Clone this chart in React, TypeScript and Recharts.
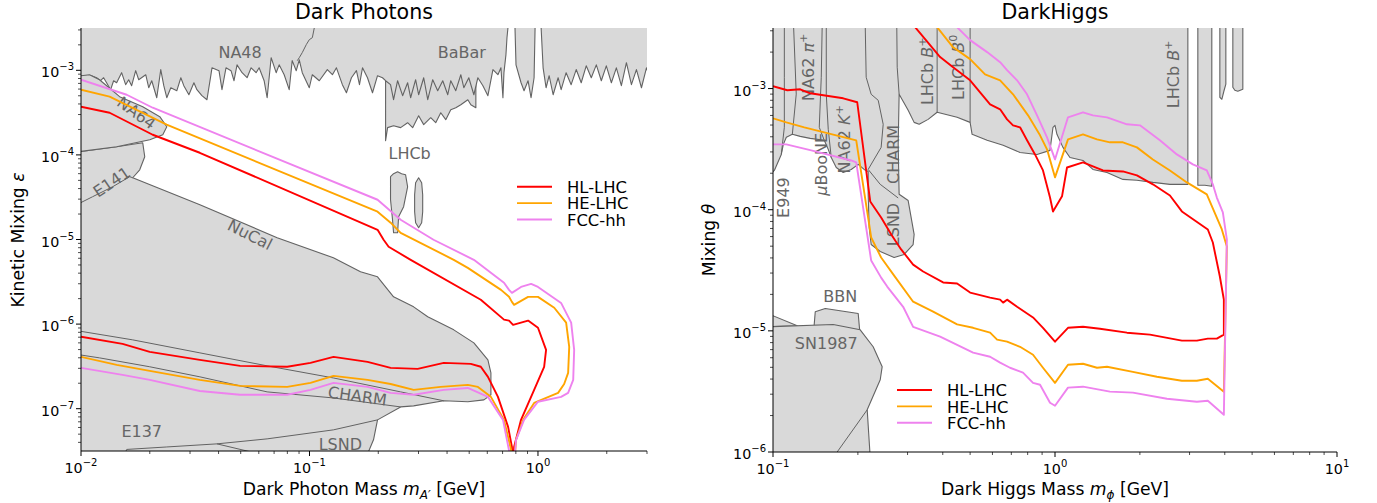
import React from "react"
import { ComposedChart, Scatter, XAxis, YAxis } from "recharts"

type Pt = [number, number]
type Label = [number, number, string]

const FONT = '"DejaVu Sans", Verdana, sans-serif'
const FILL = "#d9d9d9"
const EDGE = "#636363"
const TEXT_GRAY = "#666666"
const HL = "#ff0000"
const HE = "#ffa500"
const FCC = "#ee82ee"

// ---------- Dark photons (left) ----------
const DP_X_DOMAIN: Pt = [0.01, 3]
const DP_Y_DOMAIN: Pt = [3.1623e-8, 3.1623e-3]
const DP_X_DECADES = [-2, -1, 0]
const DP_Y_DECADES = [-8, -7, -6, -5, -4, -3]

const DP_BABAR_A: Pt[] = [
  [0.0095, 1e-2], [0.0095, 7.74e-4], [0.01, 7.74e-4], [0.01057, 8.63e-4], [0.01112, 8.63e-4], [0.0117, 8.17e-4],
  [0.01218, 7.53e-4], [0.01256, 8.17e-4], [0.01294, 7.13e-4], [0.01348, 5.9e-4], [0.01389, 7.53e-4], [0.01432, 7.13e-4],
  [0.01506, 9.37e-4], [0.01568, 6.76e-4], [0.01617, 7.74e-4], [0.01666, 6.58e-4], [0.01735, 9.9e-4], [0.01789, 7.74e-4],
  [0.0192, 8.87e-4], [0.01979, 6.22e-4], [0.0204, 7.53e-4], [0.02146, 4.74e-4], [0.02234, 1.02e-3], [0.02303, 6.58e-4],
  [0.02374, 4.74e-4], [0.02472, 6.22e-4], [0.02627, 5.74e-4], [0.02735, 8.17e-4], [0.02818, 6.58e-4], [0.02966, 5.14e-4],
  [0.0312, 7.13e-4], [0.03216, 5.9e-4], [0.03382, 5.01e-4], [0.03558, 4.49e-4], [0.03705, 8.87e-4], [0.03743, 1.07e-3],
  [0.04017, 9.9e-4], [0.0414, 5.9e-4], [0.04311, 1.07e-3], [0.04535, 9.9e-4], [0.04674, 7.53e-4], [0.04818, 1.16e-3],
  [0.0507, 9.37e-4], [0.05332, 8.17e-4], [0.05552, 1.07e-3], [0.0584, 9.37e-4], [0.0602, 1.07e-3], [0.06331, 7.53e-4],
  [0.06526, 4.74e-4], [0.06795, 1.41e-3], [0.07146, 9.37e-4], [0.07366, 1.16e-3], [0.07749, 8.87e-4], [0.08151, 5.9e-4],
  [0.08401, 1.3e-3], [0.0875, 9.9e-4], [0.09021, 1.33e-3], [0.09298, 9.37e-4], [0.0998, 6.22e-4], [0.1029, 8.87e-4],
  [0.1104, 7.53e-4], [0.1197, 1.02e-3], [0.126, 8.87e-4], [0.1312, 1.07e-3], [0.1393, 6.76e-4], [0.1451, 5.43e-4],
  [0.1526, 8.17e-4], [0.1605, 9.9e-4], [0.1655, 6.76e-4], [0.1706, 1.07e-3], [0.1794, 8.17e-4], [0.1887, 5.43e-4],
  [0.1985, 8.63e-4], [0.2087, 8.17e-4], [0.2153, 7.53e-4], [0.2263, 6.76e-4], [0.2333, 4.49e-4], [0.243, 7.53e-4],
  [0.2556, 5.01e-4], [0.2688, 7.13e-4], [0.2771, 4.74e-4], [0.2914, 7.74e-4], [0.3004, 5.14e-4], [0.3161, 8.17e-4],
  [0.3292, 4.49e-4], [0.3462, 7.74e-4], [0.364, 5.74e-4], [0.383, 7.53e-4], [0.4028, 5.14e-4], [0.4152, 7.53e-4],
  [0.4368, 5.74e-4], [0.4595, 8.87e-4], [0.4736, 6.22e-4], [0.498, 8.17e-4], [0.5241, 5.14e-4], [0.5457, 8.17e-4],
  [0.5741, 6.58e-4], [0.6037, 5.01e-4], [0.6351, 1.02e-3], [0.6678, 8.87e-4], [0.6884, 1.07e-3], [0.7024, 4.74e-4],
  [0.7096, 9.37e-4], [0.7241, 1.53e-3], [0.7316, 2.43e-3], [0.7389, 3.19e-3], [0.7389, 1e-2],
]
const DP_BABAR_B: Pt[] = [
  [0.7932, 1e-2], [0.7932, 3.19e-3], [0.8013, 1.16e-3], [0.8432, 7.13e-4], [0.869, 5.74e-4], [0.9047, 7.53e-4],
  [0.9325, 4.74e-4], [0.9614, 8.17e-4], [0.9712, 3.19e-3], [0.9712, 1e-2],
]
const DP_BABAR_C: Pt[] = [
  [1.032, 1e-2], [1.032, 3.19e-3], [1.053, 1.07e-3], [1.085, 6.22e-4], [1.119, 8.63e-4], [1.165, 5.14e-4],
  [1.225, 8.17e-4], [1.263, 5.9e-4], [1.328, 9.37e-4], [1.397, 6.76e-4], [1.47, 1.02e-3], [1.546, 7.13e-4],
  [1.626, 1.13e-3], [1.711, 8.17e-4], [1.8, 1.16e-3], [1.893, 7.53e-4], [1.991, 1.13e-3], [2.095, 7.13e-4],
  [2.203, 1.07e-3], [2.317, 6.58e-4], [2.438, 1.23e-3], [2.564, 6.76e-4], [2.697, 1.02e-3], [2.837, 6.22e-4],
  [2.984, 1.07e-3], [3.2, 6.22e-4], [3.2, 1e-2],
]
const DP_LHCB_LOW: Pt[] = [
  [0.2153, 1.02e-3], [0.2153, 1.47e-4], [0.2197, 2.1e-4], [0.2333, 2.21e-4], [0.2505, 2.1e-4], [0.2688, 2.4e-4],
  [0.2828, 2.1e-4], [0.3004, 2.9e-4], [0.3161, 2.28e-4], [0.3393, 2.75e-4], [0.3568, 2.4e-4], [0.3754, 3.15e-4],
  [0.3948, 2.61e-4], [0.4152, 3.42e-4], [0.4368, 3.61e-4], [0.4595, 3.92e-4], [0.4932, 4.49e-4], [0.5084, 3.92e-4],
  [0.5347, 3.61e-4], [0.5347, 1.02e-3],
]
const DP_NA48_EDGE: Pt[] = [
  [0.106, 5e-3], [0.105, 3.19e-3], [0.1029, 2.43e-3], [0.0998, 2.3e-3], [0.09681, 2.01e-3], [0.09298, 1.62e-3],
  [0.09021, 1.41e-3], [0.08841, 1.3e-3],
]
const DP_LHCB_ISLAND_1: Pt[] = [
  [0.2263, 5.52e-5], [0.2333, 5.99e-5], [0.243, 6.32e-5], [0.253, 5.99e-5], [0.2634, 5.82e-5], [0.2688, 4.2e-5],
  [0.2582, 2.44e-5], [0.2455, 1.86e-5], [0.243, 1.2e-5], [0.2333, 1.2e-5], [0.2309, 1.71e-5], [0.2263, 2.95e-5],
]
const DP_LHCB_ISLAND_2: Pt[] = [
  [0.3004, 5.37e-5], [0.3097, 4.69e-5], [0.3129, 3.38e-5], [0.3129, 2.13e-5], [0.3097, 1.58e-5], [0.3004, 1.38e-5],
  [0.2914, 1.58e-5], [0.2885, 2.13e-5], [0.2885, 3.38e-5], [0.2914, 4.69e-5],
]
const DP_NA64: Pt[] = [
  [0.0095, 8.5e-4], [0.0109, 8.87e-4], [0.01205, 7.74e-4], [0.01476, 4.88e-4], [0.01863, 3.71e-4], [0.02212, 2.83e-4],
  [0.02374, 2.15e-4], [0.0228, 1.73e-4], [0.02, 1.51e-4], [0.01432, 1.25e-4], [0.0095, 1.08e-4],
]
const DP_NUCAL: Pt[] = [
  [0.0095, 1.08e-4], [0.01432, 1.25e-4], [0.01863, 1.39e-4], [0.01901, 9.5e-5], [0.01807, 6.67e-5], [0.01684, 5.37e-5],
  [0.03314, 2.57e-5], [0.07219, 1.05e-5], [0.1272, 6.08e-6], [0.1672, 4.15e-6], [0.1985, 3.62e-6], [0.2333, 2.1e-6],
  [0.2856, 1.6e-6], [0.3292, 1.22e-6], [0.4281, 8.55e-7], [0.5241, 6.0e-7], [0.6037, 3.78e-7], [0.6223, 2.65e-7],
  [0.6223, 1.46e-7], [0.5799, 1.27e-7], [0.4932, 1.21e-7], [0.3869, 1.24e-7], [0.2856, 1.08e-7], [0.2505, 1.05e-7],
  [0.1985, 7.38e-8], [0.1906, 4.29e-8], [0.1812, 3.1e-8], [0.18, 1e-8], [0.0095, 1e-8],
]
const DP_E141_EDGE: Pt[] = [[0.0095, 2.55e-5], [0.01123, 3.2e-5], [0.01375, 4.2e-5], [0.01633, 5.52e-5], [0.01684, 5.37e-5]]
const DP_CHARM_EDGE_A: Pt[] = [
  [0.0095, 8.4e-7], [0.01684, 6.51e-7], [0.03314, 4.57e-7], [0.06526, 3.21e-7], [0.1272, 2.31e-7], [0.2505, 1.58e-7], [0.3869, 1.24e-7],
]
const DP_CHARM_EDGE_B: Pt[] = [
  [0.0095, 4.4e-7], [0.01205, 3.99e-7], [0.02, 3.13e-7], [0.03314, 2.38e-7], [0.06526, 1.58e-7], [0.1272, 1.34e-7], [0.2505, 1.05e-7],
]
const DP_E137_EDGE: Pt[] = [
  [0.0152, 2.5e-8], [0.01585, 3.3e-8], [0.02374, 3.53e-8], [0.03936, 3.84e-8], [0.06526, 4.4e-8], [0.1272, 5.62e-8], [0.1985, 7.38e-8],
]
const DP_LSND_EDGE: Pt[] = [[0.03936, 3.84e-8], [0.05495, 3.1e-8], [0.06, 2.5e-8]]

const DP_HL_LHC: Pt[] = [
  [0.01, 7.08e-7], [0.0152, 5.84e-7], [0.02, 4.69e-7], [0.0331, 3.78e-7], [0.0497, 3.21e-7], [0.0799, 3.13e-7],
  [0.101, 3.48e-7], [0.1274, 4.1e-7], [0.1795, 3.58e-7], [0.2265, 3.04e-7], [0.2975, 2.96e-7], [0.387, 3.48e-7],
  [0.508, 3.39e-7], [0.562, 3.13e-7], [0.604, 2.38e-7], [0.668, 1.38e-7], [0.74, 6.1e-8], [0.769, 3.53e-8],
  [0.778, 1.5e-8], [0.786, 3.53e-8], [0.843, 7.38e-8], [0.962, 1.67e-7], [1.064, 3.13e-7], [1.085, 4.96e-7],
  [1.0, 9.05e-7], [0.905, 1.1e-6], [0.778, 9.8e-7], [0.747, 1.1e-6], [0.71, 1.13e-6], [0.562, 1.94e-6],
  [0.2773, 5.75e-6], [0.222, 8.2e-6], [0.211, 9.93e-6], [0.1986, 1.3e-5], [0.0331, 1.06e-4], [0.0206, 1.73e-4],
  [0.01334, 3.15e-4], [0.01, 3.71e-4],
]
const DP_HE_LHC: Pt[] = [
  [0.01, 4.1e-7], [0.01433, 3.3e-7], [0.02, 2.8e-7], [0.0331, 2.19e-7], [0.0497, 1.86e-7], [0.0799, 1.81e-7],
  [0.101, 2.02e-7], [0.1274, 2.44e-7], [0.1795, 2.19e-7], [0.2265, 1.96e-7], [0.2858, 1.67e-7], [0.375, 1.81e-7],
  [0.493, 1.91e-7], [0.546, 1.81e-7], [0.622, 1.38e-7], [0.71, 7.38e-8], [0.762, 3.3e-8], [0.778, 1.5e-8],
  [0.802, 4.29e-8], [0.861, 7.38e-8], [0.962, 1.17e-7], [1.225, 1.54e-7], [1.302, 1.96e-7], [1.355, 2.65e-7],
  [1.37, 5.38e-7], [1.328, 1.04e-6], [1.178, 1.56e-6], [1.0, 2.1e-6], [0.905, 2.1e-6], [0.786, 1.69e-6],
  [0.769, 1.83e-6], [0.747, 2.1e-6], [0.689, 2.54e-6], [0.493, 4.62e-6], [0.428, 5.75e-6], [0.2506, 1.2e-5],
  [0.2265, 1.58e-5], [0.1986, 2.13e-5], [0.0237, 2.28e-4], [0.01334, 4.88e-4], [0.01, 5.9e-4],
]
const DP_FCC_HH: Pt[] = [
  [0.01, 3.04e-7], [0.0152, 2.51e-7], [0.02, 2.19e-7], [0.0331, 1.62e-7], [0.0497, 1.46e-7], [0.0799, 1.46e-7],
  [0.101, 1.67e-7], [0.1274, 2.02e-7], [0.1795, 1.81e-7], [0.2265, 1.54e-7], [0.2858, 1.46e-7], [0.387, 1.67e-7],
  [0.493, 1.76e-7], [0.604, 1.38e-7], [0.703, 7.38e-8], [0.747, 3.2e-8], [0.775, 1.5e-8], [0.802, 4.29e-8],
  [0.869, 7.38e-8], [1.0, 1.21e-7], [1.262, 1.38e-7], [1.355, 1.54e-7], [1.426, 2.19e-7], [1.44, 4.96e-7],
  [1.397, 1.04e-6], [1.262, 1.78e-6], [1.0, 2.75e-6], [0.933, 2.99e-6], [0.843, 2.75e-6], [0.769, 2.34e-6],
  [0.747, 2.54e-6], [0.71, 3.08e-6], [0.524, 5.75e-6], [0.349, 9.93e-6], [0.2506, 1.71e-5], [0.1986, 2.95e-5],
  [0.0206, 3.61e-4], [0.01585, 5.14e-4], [0.01, 7.74e-4],
]
const DP_LABELS: Label[] = [
  [0.04967, 1.62e-3, "NA48"],
  [0.4642, 1.62e-3, "BaBar"],
  [0.2743, 1.06e-4, "LHCb"],
  [0.01753, 3.15e-4, "NA64"],
  [0.01361, 4.81e-5, "E141"],
  [0.05495, 1.14e-5, "NuCal"],
  [0.1621, 1.42e-7, "CHARM"],
  [0.01844, 5.47e-8, "E137"],
  [0.1365, 3.84e-8, "LSND"],
]
const DP_LABEL_ANGLE: Record<string, number> = { NA64: 36, E141: -34, NuCal: 27, CHARM: 8 }

// ---------- Dark Higgs (right) ----------
const DH_X_DOMAIN: Pt = [0.1, 10]
const DH_Y_DOMAIN: Pt = [1e-6, 3.1623e-3]
const DH_X_DECADES = [-1, 0, 1]
const DH_Y_DECADES = [-6, -5, -4, -3]

const DH_BAND: Pt[] = [
  [0.095, 1e-2], [2.959, 1e-2], [2.959, 1.62e-4], [2.556, 1.62e-4], [2.224, 1.68e-4], [1.952, 1.75e-4],
  [1.741, 1.78e-4], [1.529, 2.03e-4], [1.363, 2.15e-4], [1.257, 2.55e-4], [1.13, 2.7e-4], [1.067, 3.27e-4],
  [1.016, 4.19e-4], [1.0, 4.97e-4], [0.9838, 4.79e-4], [0.9601, 3.09e-4], [0.8635, 2.86e-4], [0.7517, 2.97e-4],
  [0.6546, 3.4e-4], [0.5744, 3.74e-4], [0.5082, 4.19e-4], [0.5, 5.26e-4], [0.4496, 5.79e-4], [0.382, 6.37e-4],
  [0.3549, 5.57e-4], [0.3298, 5.07e-4], [0.3166, 5.26e-4], [0.3015, 6.62e-4], [0.2801, 8.97e-4], [0.2779, 3.46e-4],
  [0.2801, 1.34e-4], [0.3015, 1.19e-4], [0.3166, 6.25e-5], [0.314, 5.16e-5], [0.2918, 4.27e-5], [0.2689, 4.03e-5],
  [0.24, 4.52e-5], [0.2229, 5.16e-5], [0.2193, 7.13e-5], [0.2175, 1.34e-4], [0.2175, 2.07e-4], [0.2105, 2.15e-4],
  [0.2005, 2.37e-4], [0.1894, 2.15e-4], [0.1774, 2.03e-4], [0.1676, 2.23e-4], [0.1609, 2.7e-4], [0.157, 3.15e-4],
  [0.152, 3.74e-4], [0.1355, 3.88e-4], [0.1249, 4.03e-4], [0.1171, 4.19e-4], [0.1115, 3.96e-4], [0.1088, 3.46e-4],
  [0.107, 2.86e-4], [0.1011, 2.11e-4], [0.095, 1.85e-4],
]
const DH_E949_EDGE: Pt[] = [[0.1097, 1e-2], [0.1097, 1.24e-3], [0.1097, 4.79e-4], [0.107, 2.86e-4]]
const DH_NA62PI_LEFT: Pt[] = [[0.1161, 1e-2], [0.1209, 9.0e-4], [0.1171, 4.19e-4]]
const DH_NA62PI_RIGHT: Pt[] = [[0.1507, 1e-2], [0.1483, 1.24e-3], [0.1459, 4.79e-4], [0.152, 3.74e-4]]
const DH_NA62K_LEFT: Pt[] = [[0.1545, 1e-2], [0.1545, 8.97e-4], [0.157, 4.61e-4], [0.1609, 2.7e-4]]
const DH_CHARM_LEFT: Pt[] = [
  [0.2105, 1e-2], [0.214, 1.24e-3], [0.2229, 8.97e-4], [0.2361, 8.0e-4], [0.2459, 5.07e-4], [0.2418, 3.27e-4], [0.2175, 2.15e-4],
]
const DH_CHARM_RIGHT: Pt[] = [[0.2734, 1e-2], [0.2757, 1.5e-3], [0.2801, 8.97e-4]]
const DH_LSND_TOP: Pt[] = [[0.2175, 2.15e-4], [0.24, 1.62e-4], [0.2779, 1.25e-4]]
const DH_B0_LEFT: Pt[] = [[0.382, 1e-2], [0.382, 6.37e-4]]
const DH_B0_RIGHT: Pt[] = [[0.5, 1e-2], [0.5, 5.26e-4]]
const DH_STRIP_1: Pt[] = [[3.21, 1e-2], [3.598, 1e-2], [3.598, 1.56e-4], [3.399, 1.59e-4], [3.21, 1.59e-4]]
const DH_STRIP_2: Pt[] = [[3.842, 1e-2], [4.035, 1e-2], [4.035, 1.09e-3], [3.97, 9.5e-4], [3.905, 8.16e-4], [3.842, 8.48e-4]]
const DH_STRIP_3: Pt[] = [[4.272, 1e-2], [4.635, 1e-2], [4.635, 9.86e-4], [4.449, 9.5e-4], [4.342, 9.68e-4], [4.272, 1.025e-3]]
const DH_BBN: Pt[] = [[0.1389, 9.0e-6], [0.1412, 1.44e-5], [0.1532, 1.53e-5], [0.2005, 1.39e-5], [0.2038, 9.0e-6]]
const DH_SN_SLIVER: Pt[] = [[0.095, 1.4e-5], [0.1219, 1.1e-5], [0.095, 1.08e-5]]
const DH_SN1987: Pt[] = [
  [0.095, 1.08e-5], [0.1635, 1.13e-5], [0.2038, 1.02e-5], [0.2266, 7.39e-6], [0.2439, 5.06e-6], [0.24, 3.95e-6],
  [0.2158, 2.23e-6], [0.2212, 9e-7], [0.095, 9e-7],
]
const DH_SN_EDGE: Pt[] = [[0.2158, 2.23e-6], [0.1635, 9e-7]]

const DH_HL_LHC: Pt[] = [
  [0.1, 1.045e-3], [0.1124, 9.68e-4], [0.1249, 9.86e-4], [0.1355, 9.14e-4], [0.1774, 8.31e-4], [0.1989, 7.71e-4],
  [0.2212, 1.17e-4], [0.2418, 8.63e-5], [0.2626, 6.25e-5], [0.2847, 4.7e-5], [0.314, 3.52e-5], [0.3407, 3.09e-5],
  [0.4011, 2.51e-5], [0.4496, 2.46e-5], [0.5, 2.07e-5], [0.5886, 1.88e-5], [0.6388, 1.81e-5], [0.6546, 1.71e-5],
  [0.6761, 1.81e-5], [0.7336, 1.58e-5], [0.8358, 1.29e-5], [0.9066, 1.06e-5], [1.0, 8.14e-6], [1.112, 1.06e-5],
  [1.257, 1.08e-5], [1.443, 1.04e-5], [1.799, 9.66e-6], [2.171, 9.31e-6], [2.818, 8.3e-6], [3.184, 8.3e-6],
  [3.483, 8.63e-6], [3.749, 8.63e-6], [3.97, 9.31e-6], [3.97, 1.81e-5], [3.842, 2.81e-5], [3.628, 5.36e-5],
  [3.483, 6.87e-5], [2.818, 9.68e-5], [2.556, 1.31e-4], [2.224, 1.62e-4], [1.952, 1.92e-4], [1.741, 2.07e-4],
  [1.479, 2.11e-4], [1.257, 2.46e-4], [1.103, 2.23e-4], [1.059, 1.29e-4], [0.9838, 9.68e-5], [0.9601, 1.26e-4],
  [0.9066, 2.11e-4], [0.8495, 2.86e-4], [0.7959, 3.74e-4], [0.7517, 4.79e-4], [0.71, 4.97e-4], [0.6761, 5.57e-4],
  [0.6388, 6.74e-4], [0.5886, 7.41e-4], [0.5, 1.17e-3], [0.4352, 1.5e-3], [0.3914, 1.82e-3], [0.3192, 3.21e-3],
  [0.2942, 4.53e-3],
]
const DH_HE_LHC: Pt[] = [
  [0.1, 5.68e-4], [0.1115, 5.26e-4], [0.1291, 4.79e-4], [0.1973, 3.74e-4], [0.2229, 5.9e-5], [0.2418, 4.03e-5],
  [0.2689, 2.86e-5], [0.314, 1.74e-5], [0.3697, 1.44e-5], [0.4496, 1.13e-5], [0.5123, 1.06e-5], [0.5886, 9.66e-6],
  [0.6233, 8.47e-6], [0.6761, 8.14e-6], [0.7517, 7.39e-6], [0.8358, 6.35e-6], [0.9066, 4.96e-6], [1.0, 3.72e-6],
  [1.112, 5.25e-6], [1.257, 5.35e-6], [1.409, 4.96e-6], [1.529, 5.05e-6], [1.889, 4.59e-6], [2.298, 4.18e-6],
  [2.818, 3.87e-6], [3.184, 3.87e-6], [3.483, 4.02e-6], [3.97, 3.14e-6], [4.068, 4.97e-5], [3.905, 6.87e-5],
  [3.454, 1.34e-4], [2.935, 1.68e-4], [2.556, 2.11e-4], [2.224, 2.6e-4], [1.952, 3.27e-4], [1.741, 3.6e-4],
  [1.566, 3.6e-4], [1.409, 3.81e-4], [1.257, 4.19e-4], [1.112, 3.81e-4], [1.0, 1.85e-4], [0.937, 3.15e-4],
  [0.885, 4.11e-4], [0.8025, 6.01e-4], [0.71, 8.97e-4], [0.6388, 1.17e-3], [0.5649, 1.31e-3], [0.5, 1.75e-3],
  [0.4352, 2.19e-3], [0.382, 3.21e-3], [0.3608, 4.11e-3],
]
const DH_FCC_HH: Pt[] = [
  [0.1, 3.46e-4], [0.1115, 3.46e-4], [0.1367, 3.09e-4], [0.1894, 2.55e-4], [0.1973, 2.46e-4], [0.2229, 3.81e-5],
  [0.2418, 2.75e-5], [0.2541, 2.32e-5], [0.2894, 1.58e-5], [0.314, 1.08e-5], [0.3914, 8.96e-6], [0.5123, 6.61e-6],
  [0.5886, 6.11e-6], [0.6388, 5.46e-6], [0.6925, 4.96e-6], [0.77, 4.52e-6], [0.8358, 3.72e-6], [0.885, 3.59e-6],
  [0.9601, 2.55e-6], [1.0, 2.41e-6], [1.112, 3.4e-6], [1.257, 3.46e-6], [1.566, 3.15e-6], [1.889, 3.09e-6],
  [2.494, 2.75e-6], [3.184, 2.6e-6], [3.483, 2.65e-6], [3.97, 2.03e-6], [4.068, 5.68e-5], [3.937, 9.49e-5],
  [3.749, 1.26e-4], [3.628, 1.62e-4], [3.454, 2.11e-4], [3.082, 2.37e-4], [2.705, 2.86e-4], [2.355, 3.74e-4],
  [2.001, 4.97e-4], [1.799, 5.07e-4], [1.529, 5.79e-4], [1.363, 6.01e-4], [1.257, 6.37e-4], [1.112, 5.79e-4],
  [1.0, 2.6e-4], [0.937, 3.96e-4], [0.8635, 6.01e-4], [0.7959, 8.97e-4], [0.7336, 1.17e-3], [0.6761, 1.42e-3],
  [0.6388, 1.65e-3], [0.5744, 2.0e-3], [0.5, 2.51e-3], [0.4496, 3.21e-3], [0.4246, 4.11e-3],
]
const DH_LABELS: Label[] = [
  [0.1088, 1.26e-4, "E949"],
  [0.1334, 1.5e-3, "NA62 *π*^+"],
  [0.1483, 2.37e-4, "*μ*BooNE"],
  [0.1789, 3.81e-4, "NA62 *K*^+"],
  [0.2667, 2.86e-4, "CHARM"],
  [0.2667, 7.55e-5, "LSND"],
  [0.3521, 1.39e-3, "LHCb *B*^+"],
  [0.4532, 1.5e-3, "LHCb *B*^0"],
  [2.618, 1.31e-3, "LHCb *B*^+ "],
  [0.1731, 1.92e-5, "BBN"],
  [0.1545, 7.84e-6, "SN1987"],
]
const DH_HORIZONTAL = ["BBN", "SN1987"]

// ---------- helpers ----------
const toXY = (pts: Pt[]) => pts.map(([x, y]) => ({ x, y }))
const noDot = () => <g />

function logTicks(decades: number[], [lo, hi]: Pt) {
  const out: number[] = []
  decades.forEach((d) =>
    [1, 2, 3, 4, 5, 6, 7, 8, 9].forEach((m) => {
      const v = m * Math.pow(10, d)
      if (v >= lo * 0.999 && v <= hi * 1.001) out.push(v)
    })
  )
  return out
}

function pathOf(points: { x: number; y: number }[], closed: boolean) {
  const d = points.map((p, i) => `${i ? "L" : "M"}${p.x.toFixed(2)},${p.y.toFixed(2)}`).join(" ")
  return closed ? d + " Z" : d
}

function region(key: string, pts: Pt[]) {
  return (
    <Scatter
      key={key}
      data={toXY(pts)}
      shape={noDot}
      isAnimationActive={false}
      line={(p: any) => <path d={pathOf(p.points, true)} fill={FILL} stroke={EDGE} strokeWidth={1.1} strokeLinejoin="round" />}
    />
  )
}

function edge(key: string, pts: Pt[]) {
  return (
    <Scatter
      key={key}
      data={toXY(pts)}
      shape={noDot}
      isAnimationActive={false}
      line={(p: any) => <path d={pathOf(p.points, false)} fill="none" stroke={EDGE} strokeWidth={1} strokeLinejoin="round" />}
    />
  )
}

function curve(key: string, pts: Pt[], color: string) {
  return (
    <Scatter
      key={key}
      data={toXY(pts)}
      shape={noDot}
      isAnimationActive={false}
      line={(p: any) => <path d={pathOf(p.points, false)} fill="none" stroke={color} strokeWidth={1.9} strokeLinejoin="round" />}
    />
  )
}

// "*x*" -> italic, "^c" -> superscript
function rich(s: string, size: number) {
  return s
    .split(/(\*[^*]+\*|\^.)/)
    .filter(Boolean)
    .map((t, i) => {
      if (t.startsWith("*")) return <tspan key={i} fontStyle="italic">{t.slice(1, -1)}</tspan>
      if (t.startsWith("^"))
        return (
          <tspan key={i} fontSize={size * 0.7} dy={-size * 0.42}>
            {t.slice(1)}
          </tspan>
        )
      return <tspan key={i}>{t}</tspan>
    })
}

function labels(key: string, items: Label[], angleOf: (t: string) => number) {
  const size = 16
  return (
    <Scatter
      key={key}
      data={items.map(([x, y, text]) => ({ x, y, text }))}
      isAnimationActive={false}
      shape={(p: any) => {
        const a = angleOf(p.payload.text)
        return (
          <text
            x={p.cx}
            y={p.cy}
            dy={size * 0.36}
            textAnchor="middle"
            fontSize={size}
            fontFamily={FONT}
            fill={TEXT_GRAY}
            transform={a ? `rotate(${a},${p.cx},${p.cy})` : undefined}
          >
            {rich(p.payload.text.trim(), size)}
          </text>
        )
      }}
    />
  )
}

const expText = (e: number) => (e < 0 ? "\u2212" + -e : String(e))

function tickInfo(v: number) {
  const lg = Math.log10(v)
  const e = Math.round(lg)
  return { e, major: Math.abs(lg - e) < 1e-6 }
}

function XTick({ x, y, payload }: any) {
  const { e, major } = tickInfo(payload.value)
  return (
    <g>
      <line x1={x} x2={x} y1={y} y2={y + (major ? 5 : 3)} stroke="#000" strokeWidth={major ? 1 : 0.7} />
      {major && (
        <text x={x} y={y + 22} textAnchor="middle" fontSize={14.3} fontFamily={FONT} fill="#000">
          10<tspan fontSize={10} dy={-7}>{expText(e)}</tspan>
        </text>
      )}
    </g>
  )
}

function YTick({ x, y, payload }: any) {
  const { e, major } = tickInfo(payload.value)
  return (
    <g>
      <line x1={x} x2={x - (major ? 5 : 3)} y1={y} y2={y} stroke="#000" strokeWidth={major ? 1 : 0.7} />
      {major && (
        <text x={x - 7} y={y + 7} textAnchor="end" fontSize={14.3} fontFamily={FONT} fill="#000">
          10<tspan fontSize={10} dy={-7}>{expText(e)}</tspan>
        </text>
      )}
    </g>
  )
}

function Panel({
  width,
  yAxisWidth,
  rightMargin,
  xAxisHeight,
  xDomain,
  yDomain,
  xTicks,
  yTicks,
  children,
}: {
  width: number
  yAxisWidth: number
  rightMargin: number
  xAxisHeight: number
  xDomain: Pt
  yDomain: Pt
  xTicks: number[]
  yTicks: number[]
  children: React.ReactNode
}) {
  return (
    <ComposedChart width={width} height={503} margin={{ top: 28, right: rightMargin, bottom: 0, left: 0 }}>
      {children}
      <XAxis
        dataKey="x"
        type="number"
        scale="log"
        domain={xDomain}
        allowDataOverflow
        ticks={xTicks}
        interval={0}
        tick={(p: any) => <XTick {...p} />}
        tickSize={0}
        tickMargin={0}
        tickLine={false}
        axisLine={{ stroke: "#000" }}
        height={xAxisHeight}
        zIndex={1000}
      />
      <YAxis
        dataKey="y"
        type="number"
        scale="log"
        domain={yDomain}
        allowDataOverflow
        ticks={yTicks}
        interval={0}
        tick={(p: any) => <YTick {...p} />}
        tickSize={0}
        tickMargin={0}
        tickLine={false}
        axisLine={{ stroke: "#000" }}
        width={yAxisWidth}
        zIndex={1000}
      />
      <XAxis xAxisId="top" orientation="top" type="number" domain={[0, 1]} height={0} tick={false} tickLine={false} axisLine={{ stroke: "#000" }} zIndex={1000} />
      <YAxis yAxisId="right" orientation="right" type="number" domain={[0, 1]} width={0} tick={false} tickLine={false} axisLine={{ stroke: "#000" }} zIndex={1000} />
    </ComposedChart>
  )
}

function LegendBlock({ x, y }: { x: number; y: number }) {
  const items: [string, string][] = [
    ["HL-LHC", HL],
    ["HE-LHC", HE],
    ["FCC-hh", FCC],
  ]
  return (
    <g>
      {items.map(([name, color], i) => (
        <g key={name}>
          <line x1={x} x2={x + 35} y1={y + i * 16.4} y2={y + i * 16.4} stroke={color} strokeWidth={1.9} />
          <text x={x + 50} y={y + i * 16.4 + 6.3} fontSize={16.4} fontFamily={FONT} fill="#000">
            {name}
          </text>
        </g>
      ))}
    </g>
  )
}

export default function App() {
  return (
    <div style={{ position: "absolute", left: 0, top: 0, width: 1377, height: 503, background: "#fff", fontFamily: FONT }}>
      <div style={{ position: "absolute", left: 0, top: 0 }}>
        <Panel
          width={688}
          yAxisWidth={81}
          rightMargin={41}
          xAxisHeight={52}
          xDomain={DP_X_DOMAIN}
          yDomain={DP_Y_DOMAIN}
          xTicks={logTicks(DP_X_DECADES, DP_X_DOMAIN)}
          yTicks={logTicks(DP_Y_DECADES, DP_Y_DOMAIN)}
        >
          {region("lhcbLow", DP_LHCB_LOW)}
          {region("babarA", DP_BABAR_A)}
          {region("babarB", DP_BABAR_B)}
          {region("babarC", DP_BABAR_C)}
          {edge("na48", DP_NA48_EDGE)}
          {region("isl1", DP_LHCB_ISLAND_1)}
          {region("isl2", DP_LHCB_ISLAND_2)}
          {region("nucal", DP_NUCAL)}
          {edge("e141", DP_E141_EDGE)}
          {edge("charmA", DP_CHARM_EDGE_A)}
          {edge("charmB", DP_CHARM_EDGE_B)}
          {edge("e137", DP_E137_EDGE)}
          {edge("lsnd", DP_LSND_EDGE)}
          {region("na64", DP_NA64)}
          {labels("dpLabels", DP_LABELS, (t) => DP_LABEL_ANGLE[t] ?? 0)}
          {curve("dpHL", DP_HL_LHC, HL)}
          {curve("dpHE", DP_HE_LHC, HE)}
          {curve("dpFCC", DP_FCC_HH, FCC)}
        </Panel>
      </div>
      <div style={{ position: "absolute", left: 688, top: 0 }}>
        <Panel
          width={689}
          yAxisWidth={85}
          rightMargin={40}
          xAxisHeight={51}
          xDomain={DH_X_DOMAIN}
          yDomain={DH_Y_DOMAIN}
          xTicks={logTicks(DH_X_DECADES, DH_X_DOMAIN)}
          yTicks={logTicks(DH_Y_DECADES, DH_Y_DOMAIN)}
        >
          {region("band", DH_BAND)}
          {edge("e949", DH_E949_EDGE)}
          {edge("piL", DH_NA62PI_LEFT)}
          {edge("piR", DH_NA62PI_RIGHT)}
          {edge("kL", DH_NA62K_LEFT)}
          {edge("charmL", DH_CHARM_LEFT)}
          {edge("charmR", DH_CHARM_RIGHT)}
          {edge("lsndTop", DH_LSND_TOP)}
          {edge("b0L", DH_B0_LEFT)}
          {edge("b0R", DH_B0_RIGHT)}
          {region("s1", DH_STRIP_1)}
          {region("s2", DH_STRIP_2)}
          {region("s3", DH_STRIP_3)}
          {region("bbn", DH_BBN)}
          {region("sliver", DH_SN_SLIVER)}
          {region("sn", DH_SN1987)}
          {edge("snEdge", DH_SN_EDGE)}
          {labels("dhLabels", DH_LABELS, (t) => (DH_HORIZONTAL.includes(t) ? 0 : -90))}
          {curve("dhHL", DH_HL_LHC, HL)}
          {curve("dhHE", DH_HE_LHC, HE)}
          {curve("dhFCC", DH_FCC_HH, FCC)}
        </Panel>
      </div>
      <svg width={1377} height={503} style={{ position: "absolute", left: 0, top: 0, pointerEvents: "none" }} fontFamily={FONT}>
        <text x={364} y={19} textAnchor="middle" fontSize={20.6} fill="#000">Dark Photons</text>
        <text x={1055} y={19} textAnchor="middle" fontSize={20.6} fill="#000">DarkHiggs</text>
        <text x={364} y={495} textAnchor="middle" fontSize={17.2} fill="#000">
          Dark Photon Mass <tspan fontStyle="italic">m</tspan>
          <tspan fontStyle="italic" fontSize={12} dy={4}>A′</tspan>
          <tspan dy={-4}> [GeV]</tspan>
        </text>
        <text x={1055} y={495} textAnchor="middle" fontSize={17.2} fill="#000">
          Dark Higgs Mass <tspan fontStyle="italic">m</tspan>
          <tspan fontStyle="italic" fontSize={12} dy={4}>ϕ</tspan>
          <tspan dy={-4}> [GeV]</tspan>
        </text>
        <text transform="translate(24,240) rotate(-90)" textAnchor="middle" fontSize={17.2} fill="#000">
          Kinetic Mixing <tspan fontStyle="italic">ε</tspan>
        </text>
        <text transform="translate(715,240) rotate(-90)" textAnchor="middle" fontSize={17.2} fill="#000">
          Mixing <tspan fontStyle="italic">θ</tspan>
        </text>
        <LegendBlock x={517} y={186.7} />
        <LegendBlock x={897} y={390} />
      </svg>
    </div>
  )
}
